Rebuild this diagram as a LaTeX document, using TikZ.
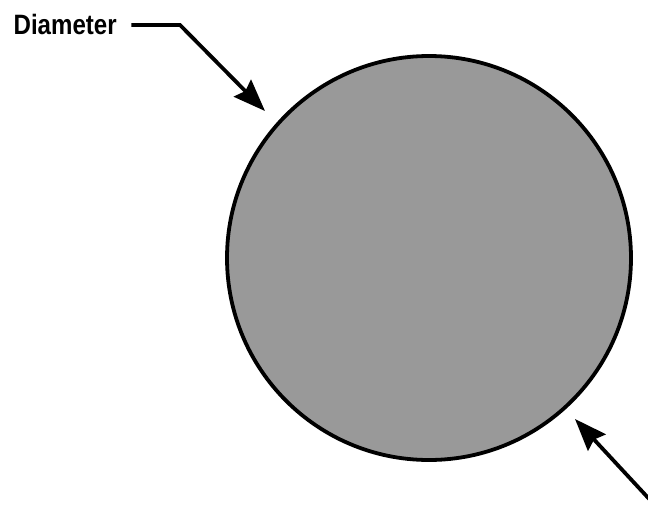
\documentclass[tikz,border=0pt]{standalone}
\usepackage{fontspec}
\setmainfont{Liberation Sans}
\usepackage{tikz}
\usetikzlibrary{arrows.meta}

\begin{document}
\begin{tikzpicture}[x=1pt, y=-1pt, line width=3.8pt]
    \useasboundingbox (0,0) rectangle (648,504);
    % Disk
    \node[draw, circle, fill={rgb,255:red,153;green,153;blue,153}, minimum size=404pt, inner sep=0pt] (disk) at (429,258) {};

    % Label with pointer
    \node[anchor=west, inner sep=0pt, xscale=0.86, font=\bfseries\fontsize{28}{28}\selectfont] (lbl) at (12,24) {Diameter};
    \coordinate (bend) at (180,25);
    \coordinate (tipA) at (265,111);
    \draw[-{Stealth[length=32pt, width=24pt, inset=4pt]}] ([xshift=13pt]lbl.east |- bend) -- (bend) -- (tipA);

    % Second pointer
    \coordinate (tailB) at (652,502);
    \coordinate (tipB) at (575,419);
    \draw[-{Stealth[length=32pt, width=24pt, inset=4pt]}] (tailB) -- (tipB);
\end{tikzpicture}
\end{document}
